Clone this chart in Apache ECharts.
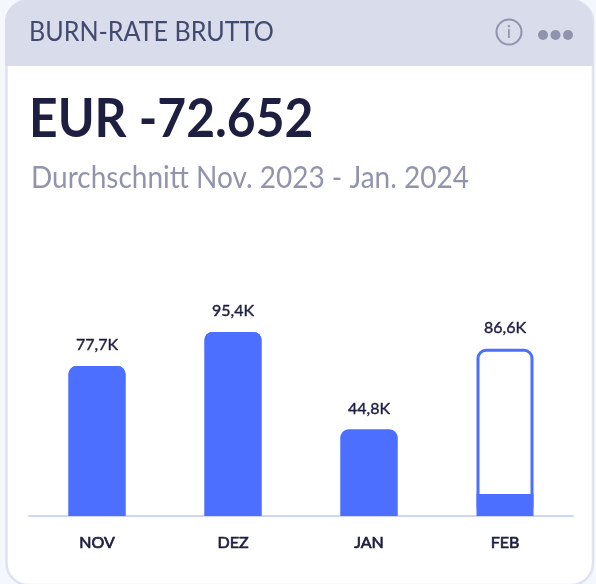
<!DOCTYPE html>
<html><head><meta charset="utf-8">
<style>html,body{margin:0;padding:0;background:#f5f7ff}#c{width:596px;height:584px}</style>
<script src="https://cdn.jsdelivr.net/npm/echarts@6/dist/echarts.min.js"></script>
</head><body><div id="c"></div>
<script>
const categories = ['NOV','DEZ','JAN','FEB'];
const totals = [77.7,95.4,44.8,86.6];
const filled = [77.7,95.4,44.8,11.4];
const labels = ['77,7K','95,4K','44,8K','86,6K'];
const cardTitle = 'BURN-RATE BRUTTO';
const headline = 'EUR -72.652';
const subline = 'Durchschnitt Nov. 2023 - Jan. 2024';
const BLUE='#4d6fff', INK='#1e1e40', F='Lato';
const chart = echarts.init(document.getElementById('c'),null,{renderer:'canvas'});
chart.setOption({
  animation:false,
  backgroundColor:'#f5f7ff',
  graphic:[
    {type:'rect',z:-10,shape:{x:6.5,y:0,width:586.5,height:585,r:22},style:{fill:'#fff',stroke:'#dfe2f1',lineWidth:2.5}},
    {type:'rect',z:-9,shape:{x:5,y:0,width:588,height:66,r:[22,22,0,0]},style:{fill:'#d9dcea'}},
    {type:'text',z:5,x:29,y:33,scaleX:0.965,style:{text:cardTitle,fill:'#434a70',font:'400 26px Lato',textVerticalAlign:'middle'}},
    {type:'text',z:5,x:29,y:120,scaleX:0.922,style:{text:headline,fill:INK,font:'700 54px Lato',textVerticalAlign:'middle'}},
    {type:'text',z:5,x:31,y:178,scaleX:0.903,style:{text:subline,fill:'#9294ae',font:'400 31px Lato',textVerticalAlign:'middle'}},
    {type:'circle',z:5,shape:{cx:509,cy:32,r:12.5},style:{fill:'none',stroke:'#8f93ab',lineWidth:2}},
    {type:'text',z:5,x:509,y:32,style:{text:'i',fill:'#8f93ab',font:'400 18px Lato',textAlign:'center',textVerticalAlign:'middle'}},
    {type:'circle',z:5,shape:{cx:543,cy:35,r:5},style:{fill:'#8f93ab'}},
    {type:'circle',z:5,shape:{cx:555.5,cy:35,r:5},style:{fill:'#8f93ab'}},
    {type:'circle',z:5,shape:{cx:568,cy:35,r:5},style:{fill:'#8f93ab'}}
  ],
  grid:{left:29,right:23,top:323,height:193},
  xAxis:{type:'category',data:categories,
    axisLine:{lineStyle:{color:'#cdd6f8',width:2}},axisTick:{show:false},
    axisLabel:{color:INK,fontFamily:F,fontSize:16,margin:19,textBorderColor:INK,textBorderWidth:0.7}},
  yAxis:{type:'value',min:0,max:100,show:false},
  series:[
    {type:'bar',name:'Gesamt',data:totals.map((v,i)=>({value:v,itemStyle:i===3?{color:'#fff',borderColor:BLUE,borderWidth:3,borderRadius:8}:{color:BLUE,borderRadius:[8,8,0,0]}})),
      barWidth:57,barGap:'-100%',z:2,
      label:{show:true,position:'top',distance:13,color:INK,fontFamily:F,fontSize:16,textBorderColor:INK,textBorderWidth:0.4,
        formatter:p=>labels[p.dataIndex]}},
    {type:'bar',name:'Ist',data:filled.map((v,i)=>({value:v,itemStyle:{color:BLUE,borderRadius:i===3?0:[8,8,0,0]}})),
      barWidth:57,z:3,label:{show:false}}
  ]
});
</script></body></html>
